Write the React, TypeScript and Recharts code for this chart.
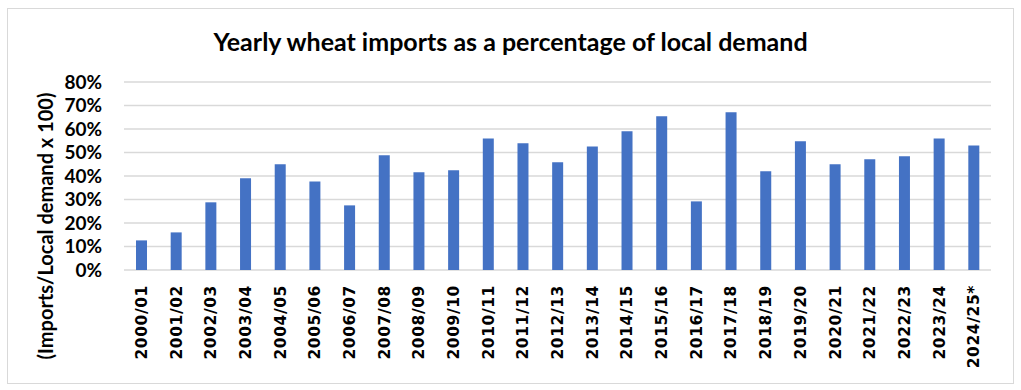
import React from "react";
import { BarChart, Bar, XAxis, YAxis, CartesianGrid } from "recharts";

const seasons = [
  "2000/01", "2001/02", "2002/03", "2003/04", "2004/05", "2005/06", "2006/07",
  "2007/08", "2008/09", "2009/10", "2010/11", "2011/12", "2012/13", "2013/14",
  "2014/15", "2015/16", "2016/17", "2017/18", "2018/19", "2019/20", "2020/21",
  "2021/22", "2022/23", "2023/24", "2024/25*",
];

const importShare = [
  12.6, 16.0, 28.8, 39.0, 45.0, 37.7, 27.5, 48.8, 41.6, 42.4, 56.0, 53.9, 45.8,
  52.6, 59.0, 65.4, 29.2, 67.1, 42.0, 54.8, 45.0, 47.1, 48.4, 56.0, 53.0,
];

const yTicks = [0, 10, 20, 30, 40, 50, 60, 70, 80];

const chartData = seasons.map((season, i) => ({
  season,
  share: importShare[i],
}));

const FONT = "Lato, 'Open Sans', sans-serif";

const SeasonTick = (props: any) => {
  const { x, y, payload } = props;
  return (
    <g transform={`translate(${x},${y})`}>
      <text
        transform="rotate(-90)"
        x={-15}
        dy="0.36em"
        textAnchor="end"
        fill="#000"
        fontFamily="'DejaVu Sans', sans-serif"
        fontWeight="bold"
        fontSize={15.5}
        letterSpacing={0.6}
      >
        {payload.value}
      </text>
    </g>
  );
};

export default function App() {
  return (
    <div
      style={{
        position: "absolute",
        left: 0,
        top: 0,
        width: 1021,
        height: 390,
        background: "#fff",
        fontFamily: FONT,
      }}
    >
      <div
        style={{
          position: "absolute",
          left: 7,
          top: 8,
          width: 1005,
          height: 374,
          border: "1.5px solid #d9d9d9",
        }}
      />
      <div
        style={{
          position: "absolute",
          left: 0,
          width: 1021,
          top: 26,
          textAlign: "center",
          fontWeight: "bold",
          fontSize: 25,
          color: "#000",
          lineHeight: "30px",
        }}
      >
        Yearly wheat imports as a percentage of local demand
      </div>
      <div
        style={{
          position: "absolute",
          left: 45 - 160,
          top: 226 - 12,
          width: 320,
          height: 24,
          lineHeight: "24px",
          textAlign: "center",
          fontWeight: "bold",
          fontSize: 20,
          color: "#000",
          transform: "rotate(-90deg)",
        }}
      >
        (Imports/Local demand x 100)
      </div>
      <div style={{ position: "absolute", left: 0, top: 0 }}>
        <BarChart
          width={1021}
          height={390}
          data={chartData}
          margin={{ top: 82, right: 30, left: 10, bottom: 10 }}
        >
          <CartesianGrid
            vertical={false}
            stroke="#d9d9d9"
            strokeWidth={1.4}
          />
          <XAxis
            dataKey="season"
            axisLine={false}
            tickLine={false}
            tickSize={0}
            tickMargin={0}
            interval={0}
            height={110}
            tick={<SeasonTick />}
          />
          <YAxis
            width={114}
            domain={[0, 80]}
            ticks={yTicks}
            interval={0}
            axisLine={false}
            tickLine={false}
            tickSize={0}
            tickMargin={22}
            tickFormatter={(v) => `${v}%`}
            tick={{
              fill: "#000",
              fontSize: 19,
              fontWeight: "bold",
              fontFamily: FONT,
            }}
          />
          <Bar
            dataKey="share"
            fill="#4472C4"
            barSize={11}
            isAnimationActive={false}
          />
        </BarChart>
      </div>
    </div>
  );
}
